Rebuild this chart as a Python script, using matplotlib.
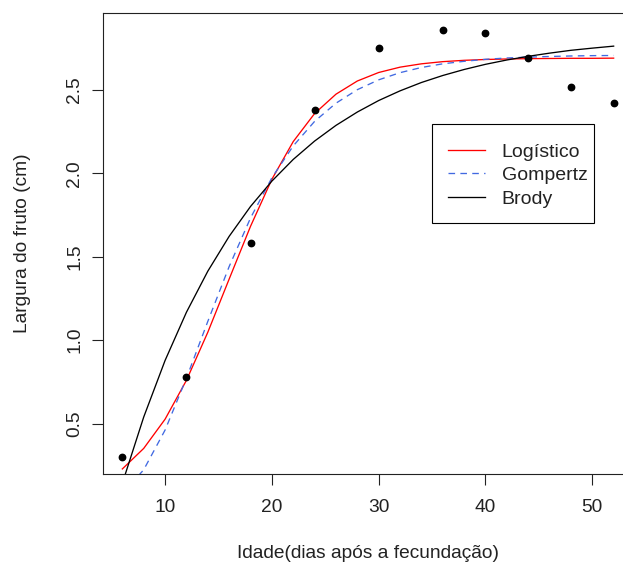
import matplotlib
matplotlib.use("Agg")
import matplotlib.pyplot as plt
from matplotlib.patches import Rectangle
from matplotlib.transforms import Bbox

plt.rcParams['font.family'] = ['Liberation Sans', 'DejaVu Sans']

# Observed data
idade = [6, 12, 18, 24, 30, 36, 40, 44, 48, 52]
largura = [0.30, 0.78, 1.58, 2.38, 2.75, 2.86, 2.84, 2.69, 2.52, 2.42]

# Fitted curves, values
x_curve = [6, 8, 10, 12, 14, 16, 18, 20, 22, 24, 26, 28, 30, 32, 34, 36,
           38, 40, 42, 44, 46, 48, 50, 52]
logistico = [0.228, 0.351, 0.526, 0.759, 1.047, 1.366, 1.682, 1.964, 2.190,
             2.358, 2.474, 2.553, 2.604, 2.636, 2.656, 2.669, 2.677, 2.682,
             2.685, 2.687, 2.688, 2.689, 2.689, 2.690]
gompertz = [0.080, 0.223, 0.461, 0.772, 1.112, 1.441, 1.732, 1.973, 2.164,
            2.311, 2.420, 2.501, 2.560, 2.603, 2.634, 2.656, 2.671, 2.683,
            2.691, 2.696, 2.700, 2.703, 2.705, 2.706]
brody = [0.142, 0.539, 0.878, 1.167, 1.413, 1.622, 1.801, 1.953, 2.083,
         2.193, 2.287, 2.367, 2.436, 2.494, 2.544, 2.586, 2.622, 2.653,
         2.679, 2.701, 2.720, 2.737, 2.750, 2.762]

legend_labels = ['Logístico', 'Gompertz', 'Brody']
xticks = [10, 20, 30, 40, 50]
yticks = [0.5, 1.0, 1.5, 2.0, 2.5]

W, H = 623, 569
fs = 13.8
fig = plt.figure(figsize=(W / 100, H / 100), dpi=100)
left, right, top, bottom = 102.7, 633.3, 12.7, 474.0
ax = fig.add_axes([left / W, 1 - bottom / H, (right - left) / W, (bottom - top) / H])

ax.plot(idade, largura, 'o', color='black', markersize=4.6, zorder=5)
l1, = ax.plot(x_curve, logistico, color='#ff0000', lw=0.95)
l2, = ax.plot(x_curve, gompertz, color='#4169e1', lw=0.95, dashes=(5, 4))
l3, = ax.plot(x_curve, brody, color='black', lw=0.95)

xr = max(idade) - min(idade)
ax.set_xlim(min(idade) - 0.04 * xr, max(idade) + 0.04 * xr)
yr = max(largura) - min(largura)
ax.set_ylim(min(largura) - 0.04 * yr, max(largura) + 0.04 * yr)

ax.set_xticks(xticks)
ax.set_xticklabels([str(t) for t in xticks])
ax.set_yticks(yticks)
ax.set_yticklabels([f'{t:.1f}' for t in yticks], rotation=90, va='center')
ax.tick_params(axis='both', length=8, width=0.8, labelsize=fs, colors='#222222')
ax.tick_params(axis='x', pad=10)
ax.tick_params(axis='y', pad=6)
for s in ax.spines.values():
    s.set_linewidth(0.8)
    s.set_color('#222222')

ax.set_xlabel('Idade(dias após a fecundação)', fontsize=fs, color='#222222')
ax.xaxis.label.set_va('center')
ax.xaxis.set_label_coords(0.5, (bottom - 553) / (bottom - top))
ax.set_ylabel('Largura do fruto (cm)', fontsize=fs, color='#222222')
ax.yaxis.label.set_va('center')
ax.yaxis.set_label_coords((22 - left) / (right - left), 0.5)

leg = ax.legend([l1, l2, l3], legend_labels, loc='upper left',
                bbox_to_anchor=(448 / W, 1 - 143.2 / H), bbox_transform=fig.transFigure,
                borderaxespad=0, fontsize=14, handlelength=1.9, handletextpad=0.86,
                labelspacing=0.3, borderpad=0, frameon=False)
for t in leg.get_texts():
    t.set_color('#222222')

# legend box drawn around the legend contents (R-style padding)
fig.canvas.draw()
bb = leg.get_window_extent()
pad_l, pad_r, pad_t, pad_b = 16, 6, 19.2, 14.8
box = Bbox.from_extents(bb.x0 - pad_l, bb.y0 - pad_b, bb.x1 + pad_r, bb.y1 + pad_t)
box_fig = fig.transFigure.inverted().transform_bbox(box)
fig.add_artist(Rectangle((box_fig.x0, box_fig.y0), box_fig.width, box_fig.height,
                         transform=fig.transFigure, facecolor='white',
                         edgecolor='black', linewidth=0.8, zorder=2))
leg.set_zorder(3)
fig.add_artist(leg)

fig.savefig('out.png', dpi=100)
